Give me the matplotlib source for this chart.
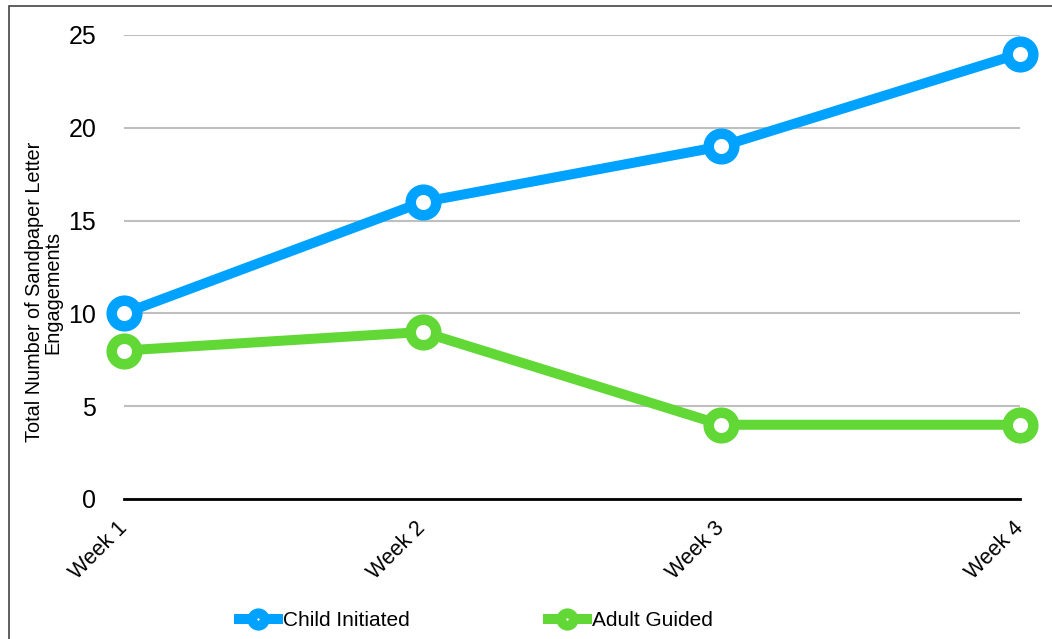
import matplotlib
matplotlib.use('Agg')
from matplotlib import pyplot as plt
from matplotlib.patches import Rectangle
from matplotlib.lines import Line2D

# data
weeks = ['Week 1', 'Week 2', 'Week 3', 'Week 4']
child_initiated = [10, 16, 19, 24]
adult_guided = [8, 9, 4, 4]
y_ticks = [0, 5, 10, 15, 20, 25]

plt.rcParams['font.family'] = ['Liberation Sans', 'DejaVu Sans']

fig = plt.figure(figsize=(10.52, 6.39), dpi=100)
ax = fig.add_axes([124 / 1052, 1 - 499 / 639, 896 / 1052, 464 / 639])

x = range(len(weeks))
blue = '#00A2FF'
green = '#61D836'

ax.plot(x, child_initiated, color=blue, lw=7.2, marker='o', ms=18.4, mew=7.6,
        mfc='white', mec=blue, clip_on=False, zorder=4)
ax.plot(x, adult_guided, color=green, lw=7.2, marker='o', ms=18.4, mew=7.6,
        mfc='white', mec=green, clip_on=False, zorder=3)

ax.set_xlim(0, 3)
ax.set_ylim(0, 25)
ax.set_yticks(y_ticks)
ax.set_xticks(list(x))
ax.set_xticklabels(weeks, rotation=45, ha='right', va='center',
                   rotation_mode='anchor', fontsize=15.5)
ax.tick_params(axis='both', length=0)
ax.tick_params(axis='y', pad=20, labelsize=18)
ax.tick_params(axis='x', pad=19)

ax.grid(axis='y', color='#BFBFBF', lw=1.5)
ax.set_axisbelow(True)
for s in ['top', 'right', 'left']:
    ax.spines[s].set_visible(False)
ax.spines['bottom'].set_color('black')
ax.spines['bottom'].set_linewidth(2)
ax.spines['bottom'].set_zorder(2)

ax.set_ylabel('Total Number of Sandpaper Letter\nEngagements', fontsize=14.3,
              linespacing=0.95)
ax.yaxis.set_label_coords(-0.069, 0.446)

# legend handles drawn smaller than the plot markers, like the original
handles = [
    Line2D([], [], color=blue, lw=7.2, marker='o', ms=9, mew=7, mfc='white', mec=blue),
    Line2D([], [], color=green, lw=7.2, marker='o', ms=9, mew=7, mfc='white', mec=green),
]
ax.legend(handles, ['Child Initiated', 'Adult Guided'], loc='center',
          bbox_to_anchor=(476 / 1052, 1 - 621 / 639),
          bbox_transform=fig.transFigure, ncol=2, frameon=False,
          fontsize=15, handlelength=1.9, columnspacing=6.6,
          handletextpad=0.25)

# thin frame around the figure
fig.patches.append(Rectangle((9 / 1052, -0.1), 1.2, 1 - 6 / 639 + 0.1,
                             transform=fig.transFigure, fill=False,
                             ec='#444444', lw=1.2))

fig.savefig('out.png', dpi=100)
